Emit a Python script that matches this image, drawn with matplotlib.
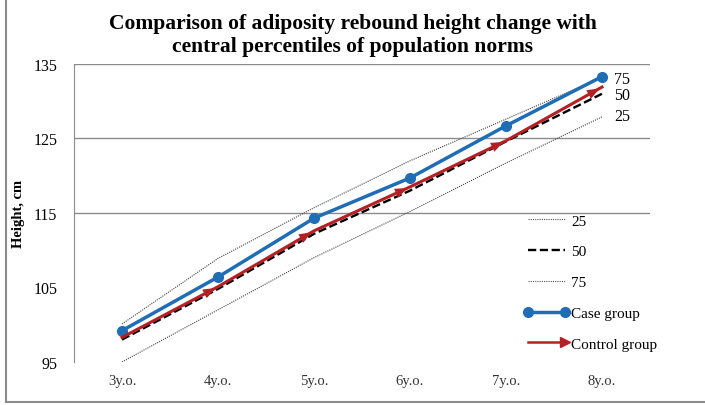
import matplotlib.pyplot as plt
from matplotlib.lines import Line2D
from matplotlib.legend_handler import HandlerLine2D

# Height (cm) by age, case/control groups vs population percentiles
ages = ['3y.o.', '4y.o.', '5y.o.', '6y.o.', '7y.o.', '8y.o.']
p25 = [95.0, 102.0, 109.0, 115.2, 121.7, 127.9]
p50 = [98.0, 104.8, 112.2, 118.0, 124.6, 131.0]
p75 = [100.1, 108.9, 115.7, 122.0, 127.6, 133.2]
case_group = [99.2, 106.4, 114.3, 119.7, 126.7, 133.3]
control_group = [98.3, 105.1, 112.6, 118.5, 124.7, 131.9]
end_labels = ['25', '50', '75']

plt.rcParams['font.family'] = ['Liberation Serif', 'DejaVu Serif']

BLUE = '#1f6db5'
RED = '#b52025'
DOT = (0, (1, 1))
DASH = (0, (3.5, 1.5))


class ArrowEndHandler(HandlerLine2D):
    # legend line with a single arrow head at its right end
    def create_artists(self, legend, orig_handle, xdescent, ydescent, width, height, fontsize, trans):
        artists = super().create_artists(legend, orig_handle, xdescent, ydescent,
                                         width, height, fontsize, trans)
        for a in artists:
            a.set_markevery([1])
        return artists


fig = plt.figure(figsize=(7.05, 4.06), dpi=100)
ax = fig.add_axes([0.105, 0.106, 0.817, 0.734])

x = range(len(ages))

for v in [115, 125, 135]:
    ax.axhline(v, color='#8c8c8c', linewidth=1.0, zorder=0)

ax.plot(x, p25, color='#444444', linestyle=DOT, linewidth=0.8)
ax.plot(x, p50, color='black', linestyle=DASH, linewidth=1.7)
ax.plot(x, p75, color='#444444', linestyle=DOT, linewidth=0.8)
ax.plot(x, case_group, color=BLUE, linewidth=2.5, marker='o', markersize=7)

# control group drawn as arrows pointing along the line
ax.plot(x, control_group, color=RED, linewidth=2.2)
for i in range(1, len(ages)):
    dy = control_group[i] - control_group[i - 1]
    ax.annotate('', xy=(i, control_group[i]), xytext=(i - 0.12, control_group[i] - dy * 0.12),
                arrowprops=dict(arrowstyle='-|>,head_length=0.9,head_width=0.35', color=RED, lw=0),
                zorder=5)

# labels on the last percentile points
ax.text(5.13, 133.0, end_labels[2], fontsize=11.5, va='center')
ax.text(5.13, 130.8, end_labels[1], fontsize=11.5, va='center')
ax.text(5.13, 128.0, end_labels[0], fontsize=11.5, va='center')

ax.set_xlim(-0.5, 5.5)
ax.set_ylim(95, 135)
ax.set_yticks([95, 105, 115, 125, 135])
ax.set_yticklabels(['95', '105', '115', '125', '135'], fontsize=11.5)
ax.set_xticks(list(x))
ax.set_xticklabels(ages, fontsize=10.5, color='#333333')
ax.tick_params(axis='x', length=0, pad=9)
ax.tick_params(axis='y', length=0, pad=12)
for s in ['top', 'right', 'bottom']:
    ax.spines[s].set_visible(False)
ax.spines['left'].set_color('#8c8c8c')

ax.set_ylabel('Height, cm', fontsize=10.5, fontweight='bold')
ax.yaxis.set_label_coords(-0.085, 0.5)

fig.text(0.5, 0.965, 'Comparison of adiposity rebound height change with\ncentral percentiles of population norms',
         ha='center', va='top', fontsize=15.5, fontweight='bold', linespacing=1.2)

control_handle = Line2D([], [], color=RED, linewidth=1.8, marker='>', markersize=7)
handles = [
    Line2D([], [], color='#555555', linestyle=DOT, linewidth=0.8),
    Line2D([], [], color='black', linestyle=DASH, linewidth=1.7),
    Line2D([], [], color='#555555', linestyle=DOT, linewidth=0.8),
    Line2D([], [], color=BLUE, linewidth=2.5, marker='o', markersize=7),
    control_handle,
]
ax.legend(handles, ['25', '50', '75', 'Case group', 'Control group'],
          loc='upper left', bbox_to_anchor=(0.78, 0.497), frameon=False, numpoints=2,
          fontsize=11, handlelength=3.0, handletextpad=0.15, labelspacing=1.12,
          borderaxespad=0, borderpad=0,
          handler_map={control_handle: ArrowEndHandler()})

# outer frame (left and bottom edges)
fig.add_artist(Line2D([0.008, 0.008], [0.007, 1.0], color='#8c8c8c', linewidth=1.5))
fig.add_artist(Line2D([0.008, 1.0], [0.007, 0.007], color='#8c8c8c', linewidth=1.5))

plt.savefig('out.png', dpi=100)
